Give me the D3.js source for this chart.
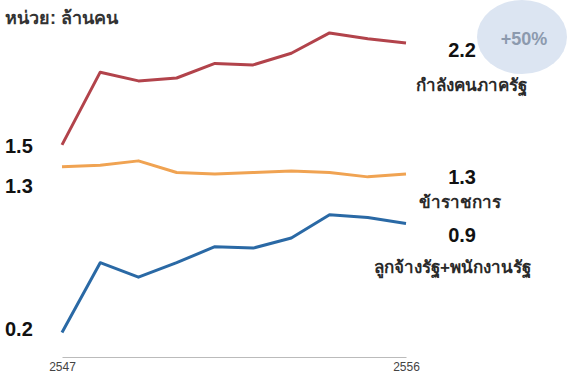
<!DOCTYPE html>
<html>
<head>
  <meta charset="utf-8">
  <title>Thai public workforce</title>
  <style type="text/css">
    body { margin: 0; background: #fff; }
    svg { display: block; font-family: "Liberation Sans", Arial, sans-serif; }
    .num { font-weight: bold; font-size: 20px; fill: #111; }
    .name { font-size: 17px; font-weight: bold; fill: #2a2a2a; }
    .axis text { font-size: 12px; fill: #444; }
  </style>
</head>
<body>
<svg id="vis" width="567" height="375"></svg>

<script src="https://cdnjs.cloudflare.com/ajax/libs/d3/7.8.5/d3.min.js"></script>
<script type="text/javascript">
  // years (Thai Buddhist era)
  var years = [2547, 2548, 2549, 2550, 2551, 2552, 2553, 2554, 2555, 2556]
  var tickYears = [2547, 2556]

  // million people
  var workforce = [1.50, 2.00, 1.94, 1.96, 2.06, 2.05, 2.13, 2.27, 2.23, 2.20]
  var civilServants = [1.35, 1.36, 1.39, 1.31, 1.30, 1.31, 1.32, 1.31, 1.28, 1.30]
  var employees = [0.21, 0.69, 0.59, 0.69, 0.80, 0.79, 0.86, 1.02, 1.00, 0.96]

  var seriesNames = ['กำลังคนภาครัฐ', 'ข้าราชการ', 'ลูกจ้างรัฐ+พนักงานรัฐ']
  var startLabels = ['1.5', '1.3', '0.2']
  var endLabels = ['2.2', '1.3', '0.9']
  var unitLabel = 'หน่วย: ล้านคน'
  var badge = '+50%'

  var svg = d3.select('#vis')

  var x = d3.scaleLinear()
    .domain([2547, 2556])
    .range([62, 406])

  var y = d3.scaleLinear()
    .domain([0, 2.4])
    .range([363, 14])

  var series = [
    { name: seriesNames[0], values: workforce, color: '#b2434b',
      start: startLabels[0], end: endLabels[0], sdy: 8, edy: 14, ndy: 48, nx: 527 },
    { name: seriesNames[1], values: civilServants, color: '#f0a352',
      start: startLabels[1], end: endLabels[1], sdy: 26, edy: 10, ndy: 34, nx: 501 },
    { name: seriesNames[2], values: employees, color: '#2a69a5',
      start: startLabels[2], end: endLabels[2], sdy: 4, edy: 19, ndy: 50, nx: 531 }
  ]

  // badge bubble top right
  svg.append('ellipse')
    .attr('cx', 522).attr('cy', 37)
    .attr('rx', 45).attr('ry', 37)
    .attr('fill', '#dce5f2')
  svg.append('text')
    .attr('x', 524).attr('y', 45)
    .attr('text-anchor', 'middle')
    .style('font-weight', 'bold')
    .style('font-size', '18px')
    .attr('fill', '#8c9aae')
    .text(badge)

  svg.append('text')
    .attr('x', 5).attr('y', 24)
    .style('font-size', '18px')
    .style('font-weight', 'bold')
    .attr('fill', '#333')
    .text(unitLabel)

  // axis
  var axis = svg.append('g')
    .attr('class', 'axis')
    .attr('transform', 'translate(0,357)')
    .call(d3.axisBottom(x).tickValues(tickYears).tickSize(0).tickPadding(5).tickFormat(d3.format('d')))
  axis.select('.domain').attr('stroke', '#bbb')

  var line = d3.line()
    .x(function(d, i) { return x(years[i]) })
    .y(function(d) { return y(d) })

  var g = svg.selectAll('g.series')
    .data(series)
    .enter().append('g')
      .attr('class', 'series')

  g.append('path')
    .attr('d', function(d) { return line(d.values) })
    .attr('fill', 'none')
    .attr('stroke', function(d) { return d.color })
    .attr('stroke-width', 3)
    .attr('stroke-linejoin', 'round')

  var last = years.length - 1

  g.append('text')
    .attr('class', 'num')
    .attr('x', 5)
    .attr('y', function(d) { return y(d.values[0]) + d.sdy })
    .text(function(d) { return d.start })

  g.append('text')
    .attr('class', 'num')
    .attr('x', 476)
    .attr('text-anchor', 'end')
    .attr('y', function(d) { return y(d.values[last]) + d.edy })
    .text(function(d) { return d.end })

  g.append('text')
    .attr('class', 'name')
    .attr('x', function(d) { return d.nx })
    .attr('text-anchor', 'end')
    .attr('y', function(d) { return y(d.values[last]) + d.ndy })
    .text(function(d) { return d.name })
</script>
</body>
</html>
